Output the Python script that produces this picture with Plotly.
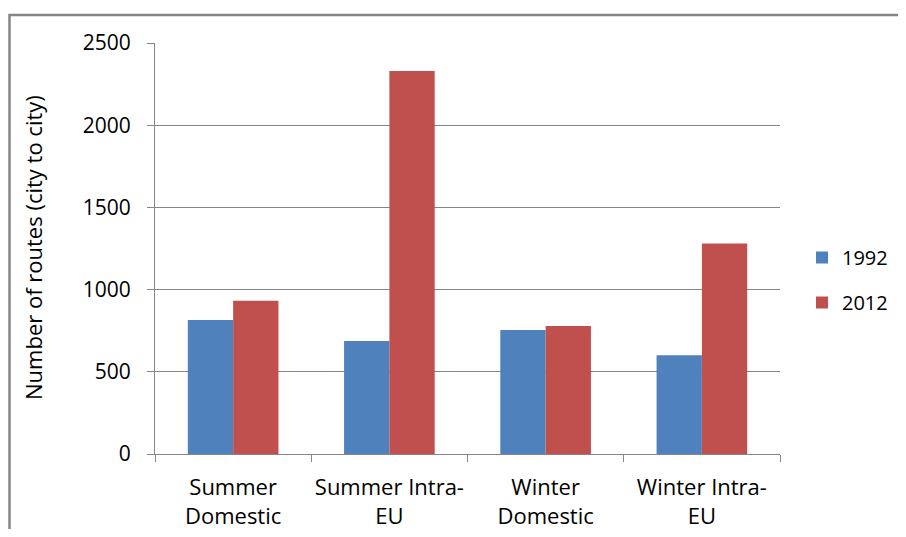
import plotly.graph_objects as go

categories = ["Summer<br>Domestic", "Summer Intra-<br>EU", "Winter<br>Domestic", "Winter Intra-<br>EU"]
series_names = ["1992", "2012"]
values_1992 = [815, 688, 755, 600]
values_2012 = [932, 2330, 778, 1280]
y_ticks = [0, 500, 1000, 1500, 2000, 2500]
y_title = "Number of routes (city to city)"

FONT = "Open Sans, sans-serif"
# page body has an 8px margin; figure sized to fill the 906x537 viewport
OFF = 8
W, H = 906 - 2 * OFF, 537 - 2 * OFF
L, T = 155 - OFF, 43 - OFF
R = W - (780 - OFF)
B = H - (454 - OFF)
pw, ph = W - L - R, H - T - B

fig = go.Figure()
fig.add_trace(go.Bar(x=categories, y=values_1992, name=series_names[0], legendgroup="a",
                     marker=dict(color="#4F81BD", line=dict(width=0))))
fig.add_trace(go.Bar(x=categories, y=values_2012, name=series_names[1], legendgroup="b",
                     marker=dict(color="#C0504D", line=dict(width=0))))

def px_x(p):
    # p in screen pixels
    return (p - OFF - L) / pw

def px_y(p):
    return (H - B - (p - OFF)) / ph

fig.add_shape(type="path", xref="paper", yref="paper",
              path=f"M {px_x(9.5)} {px_y(545)} L {px_x(9.5)} {px_y(15)} L {px_x(915)} {px_y(15)}",
              line=dict(color="#868686", width=2.5))

fig.add_annotation(text=y_title, xref="paper", yref="paper", x=px_x(33), y=px_y(248),
                   xanchor="center", yanchor="middle", textangle=-90, showarrow=False,
                   font=dict(size=22))

fig.update_layout(
    width=W, height=H,
    margin=dict(l=L, r=R, t=T, b=B, pad=0, autoexpand=False),
    paper_bgcolor="white", plot_bgcolor="white",
    barmode="group", bargap=0.42, bargroupgap=0,
    font=dict(family=FONT, size=20, color="#000000"),
    legend=dict(x=px_x(802), y=px_y(280), xanchor="left", yanchor="middle",
                font=dict(size=20), itemwidth=30, tracegroupgap=16,
                bgcolor="rgba(0,0,0,0)"),
    showlegend=True,
)
fig.update_yaxes(range=[0, 2500], tickvals=y_ticks, showgrid=True, gridcolor="#868686", gridwidth=1,
                 showline=True, linecolor="#868686", linewidth=1, ticks="outside", ticklen=7,
                 tickcolor="#868686", zeroline=False, automargin=False,
                 tickfont=dict(size=21), ticklabelstandoff=12)
fig.update_xaxes(showline=True, linecolor="#868686", linewidth=1, ticks="outside", tickson="boundaries",
                 ticklen=7, tickcolor="#868686", tickfont=dict(size=22), tickangle=0,
                 ticklabelstandoff=14, automargin=False)

fig.write_html("out.html")
